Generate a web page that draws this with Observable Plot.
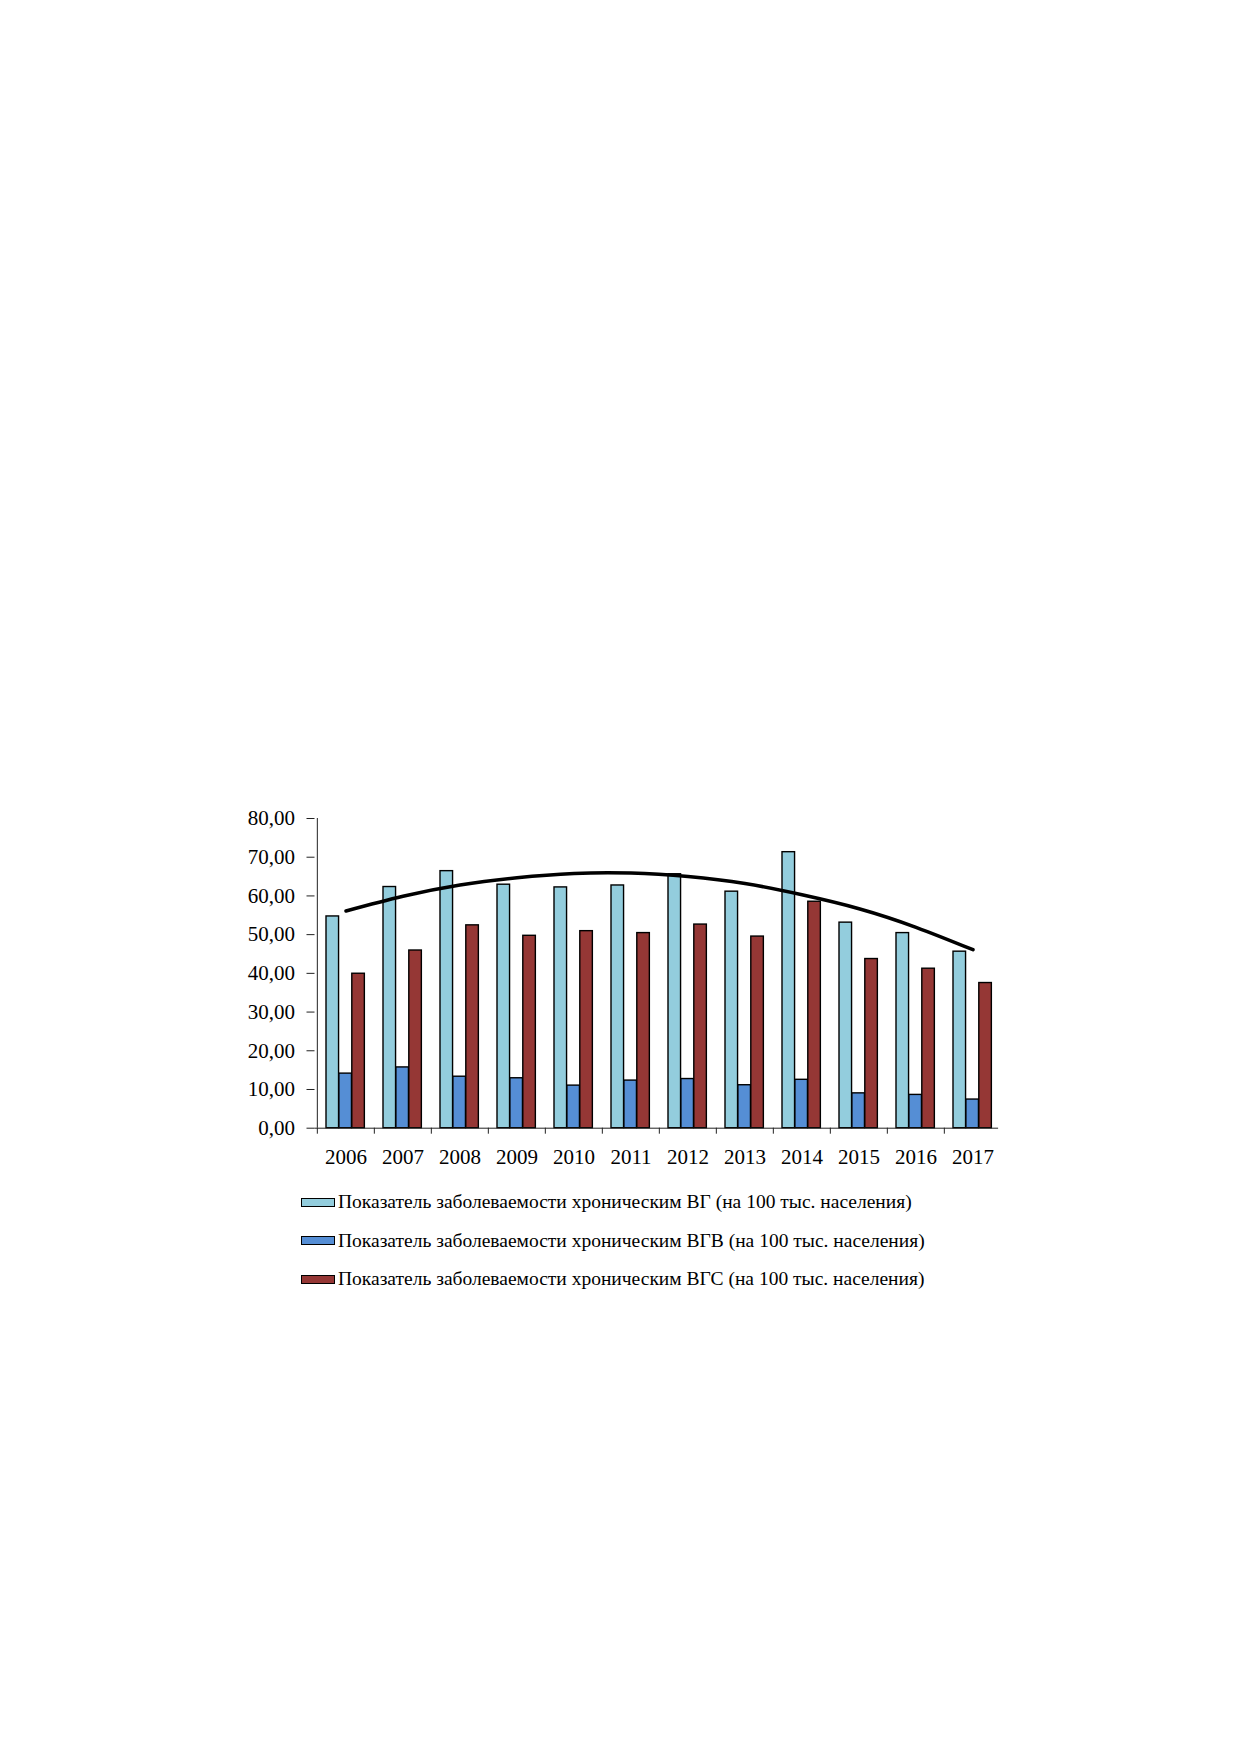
<!DOCTYPE html>
<html>
<head>
<meta charset="utf-8">
<script src="https://cdn.jsdelivr.net/npm/d3@7"></script>
<script src="https://cdn.jsdelivr.net/npm/@observablehq/plot@0.6"></script>
<style>
  html, body { margin: 0; padding: 0; background: #fff; }
  #wrap { position: relative; width: 1239px; height: 1752px; background: #fff; }
  #legend { position: absolute; left: 301px; top: 1182.75px; font-family: "Liberation Serif", "Times New Roman", serif; font-size: 19.5px; color: #000; }
  .row { display: flex; align-items: center; height: 38.5px; white-space: nowrap; }
  .sw { box-sizing: border-box; width: 34px; height: 9px; border: 1.5px solid #000; margin-right: 3px; }
</style>
</head>
<body>
<div id="wrap"></div>
<script>
const years = ["2006","2007","2008","2009","2010","2011","2012","2013","2014","2015","2016","2017"];
const vg  = [54.7, 62.3, 66.4, 62.9, 62.2, 62.7, 65.6, 61.1, 71.3, 53.1, 50.4, 45.6];
const vgb = [14.1, 15.7, 13.3, 12.9, 11.0, 12.3, 12.7, 11.1, 12.5, 9.0, 8.6, 7.4];
const vgc = [39.9, 45.9, 52.4, 49.7, 50.9, 50.4, 52.6, 49.5, 58.5, 43.7, 41.2, 37.5];
const trend = [56.1, 59.9, 62.8, 64.7, 65.8, 65.9, 65.0, 63.2, 60.3, 56.7, 51.9, 46.1];
const yTicks = [0, 10, 20, 30, 40, 50, 60, 70, 80];
const seriesNames = [
  "Показатель заболеваемости хроническим ВГ (на 100 тыс. населения)",
  "Показатель заболеваемости хроническим ВГВ (на 100 тыс. населения)",
  "Показатель заболеваемости хроническим ВГС (на 100 тыс. населения)"
];
const colors = ["#93CDDD", "#558ED5", "#953735"];

const W = 1239, H = 1180;
const mL = 314.5, mR = 236.4, mT = 818, mB = 52.3;
const bw = (W - mL - mR) / years.length;
const barW = 12.9, gap0 = 9.0;

const rows = years.map((y, i) => ({year: y, vg: vg[i], vgb: vgb[i], vgc: vgc[i], trend: trend[i]}));
const fmt = d => d.toFixed(2).replace(".", ",");

function bar(field, k) {
  const left = gap0 + k * barW;
  return Plot.barY(rows, {
    x: "year", y: field, fill: colors[k], stroke: "#000", strokeWidth: 1.4,
    insetLeft: left, insetRight: bw - left - barW
  });
}

const chart = Plot.plot({
  width: W, height: H,
  marginLeft: mL, marginRight: mR, marginTop: mT, marginBottom: mB,
  x: {domain: years, padding: 0, axis: null},
  y: {domain: [0, 80], axis: null},
  style: {fontFamily: "'Liberation Serif', 'Times New Roman', serif", color: "#000", background: "#fff"},
  marks: [
    Plot.axisY({ticks: yTicks, tickSize: 8, tickPadding: 12, tickFormat: fmt, fontSize: 21, label: null, stroke: "#222"}),
    Plot.axisX({tickSize: 6, tickFormat: () => "", dx: -bw / 2, label: null, stroke: "#222"}),
    Plot.axisX({tickSize: 0, tickPadding: 21, fontSize: 21, label: null}),
    bar("vg", 0),
    bar("vgb", 1),
    bar("vgc", 2),
    Plot.ruleX([0], {x: () => years[0], dx: -bw / 2, y1: 0, y2: 80, stroke: "#222"}),
    Plot.ruleY([0], {stroke: "#222", insetRight: 4.5}),
    Plot.line(rows, {x: "year", y: "trend", curve: "natural", stroke: "#000", strokeWidth: 3.5})
  ]
});

const wrap = document.getElementById("wrap");
wrap.appendChild(chart);

const legend = document.createElement("div");
legend.id = "legend";
seriesNames.forEach((name, i) => {
  const r = document.createElement("div");
  r.className = "row";
  const s = document.createElement("div");
  s.className = "sw";
  s.style.background = colors[i];
  const t = document.createElement("span");
  t.textContent = name;
  r.appendChild(s);
  r.appendChild(t);
  legend.appendChild(r);
});
wrap.appendChild(legend);
</script>
</body>
</html>
